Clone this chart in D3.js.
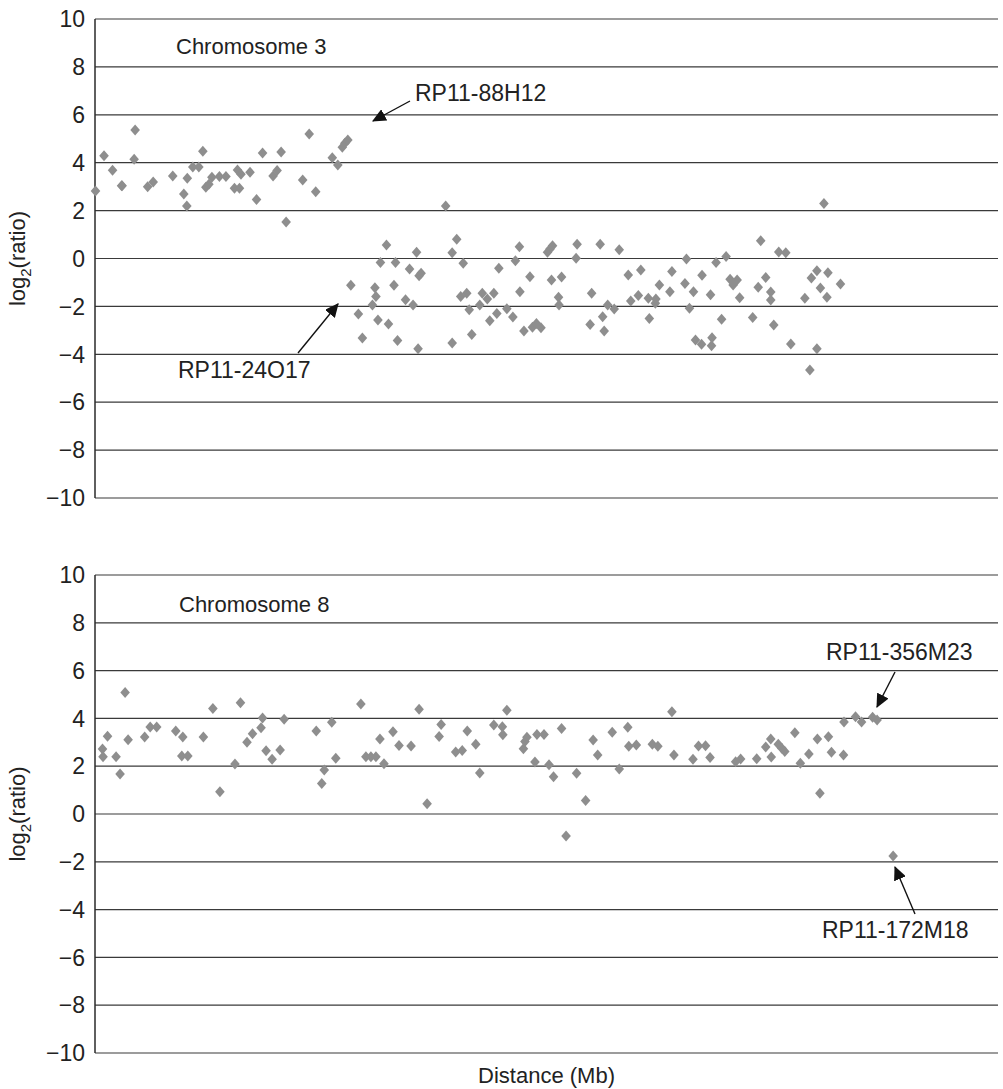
<!DOCTYPE html>
<html lang="en">
<head>
  <meta charset="UTF-8">
  <title>log2 ratio by distance</title>
  <style>
    body { margin: 0; background: #fff; }
    svg { display: block; font-family: "Liberation Sans", Arial, sans-serif; }
    .grid line { stroke: #3a3a3a; stroke-width: 1.2px; }
    .axis-line { stroke: #2a2a2a; stroke-width: 1.5px; }
    .tick-label { font-size: 23px; fill: #222; text-anchor: end; }
    .label { font-size: 22px; fill: #222; }
    .note { font-size: 23px; fill: #222; }
    .ylab { font-size: 22px; fill: #222; }
    .pt { fill: #8e8e8e; }
    .arrow { stroke: #111; stroke-width: 1.4px; }
  </style>
</head>
<body>
  <script src="https://d3js.org/d3.v7.min.js"></script>
  <script>
    // chromosome 3 clones: position (Mb) and log2 ratio
    const chr3Pos = [
      0.1, 1.8, 3.5, 5.3, 5.4, 7.8, 8.0, 10.5, 11.6, 15.5, 17.7, 18.3, 18.4, 19.5, 20.7, 21.5,
      22.1, 22.7, 23.3, 24.8, 26.1, 27.8, 28.8, 28.4, 29.1, 30.9, 32.2, 33.4, 35.5, 36.3, 37.1, 38.1,
      41.4, 42.7, 44.0, 47.3, 48.4, 49.3, 49.8, 50.4,
      51.0, 52.5, 53.3, 55.3, 55.8, 56.0, 56.4, 56.9, 58.1, 58.5, 59.6, 59.9, 60.3, 61.9, 62.7, 63.4,
      64.1, 64.4, 64.6, 65.0, 69.9, 71.2, 71.2, 72.1, 72.9, 73.4, 74.1, 74.6, 75.1, 76.7, 77.2, 78.2,
      78.7, 79.5, 80.1, 80.5, 82.1, 83.3, 83.8, 84.6, 84.7, 85.5, 86.7, 87.2, 88.0, 88.9, 90.2, 90.7,
      91.0, 91.2, 92.4, 92.5, 93.0, 95.9, 96.1, 98.7, 99.0, 100.7, 101.2, 101.5, 102.2, 103.5, 104.5, 106.3,
      106.8, 108.3, 108.8, 110.3, 110.5, 111.7, 111.8, 112.5, 114.6, 115.0, 117.6, 117.9, 118.5, 119.3, 119.7, 120.9,
      121.0, 122.7, 122.9, 123.0, 123.8, 124.9, 125.8, 126.6, 127.2, 128.0, 128.5, 131.1, 132.2, 132.7, 133.7, 134.7,
      134.7, 135.3, 136.3, 137.7, 138.7, 141.5, 142.5, 142.8, 143.9, 143.9, 144.6, 145.3, 145.9, 146.1, 148.6
    ];
    const chr3Ratio = [
      2.82, 4.29, 3.68, 3.04, 3.04, 4.14, 5.37, 3.0, 3.19, 3.44, 2.69, 2.19, 3.35, 3.82, 3.82, 4.48,
      2.97, 3.1, 3.39, 3.42, 3.42, 2.93, 2.93, 3.7, 3.52, 3.6, 2.46, 4.4, 3.44, 3.67, 4.45, 1.52,
      3.28, 5.2, 2.79, 4.21, 3.9, 4.64, 4.81, 4.95,
      -1.12, -2.32, -3.32, -1.94, -1.22, -1.59, -2.57, -0.17, 0.56, -2.73, -1.12, -0.17, -3.42, -1.72, -0.44, -1.94,
      0.26, -3.77, -0.72, -0.62, 2.19, -3.53, 0.24, 0.8, -1.59, -0.2, -1.45, -2.14, -3.17, -1.94, -1.45, -1.69,
      -2.6, -1.45, -2.3, -0.41, -2.1, -2.44, -0.09, 0.49, -1.39, -3.03, -0.76, -2.87, -2.71, -2.89, 0.26, 0.4,
      -0.9, 0.53, -1.62, -1.94, -0.77, 0.01, 0.59, -2.76, -1.45, 0.59, -2.43, -3.03, -1.94, -2.11, 0.37, -0.69,
      -1.77, -1.55, -0.48, -1.66, -2.51, -1.87, -1.69, -1.11, -1.39, -0.54, -1.04, -0.02, -2.08, -1.39, -3.4, -3.58,
      -0.7, -1.51, -3.64, -3.31, -0.17, -2.54, 0.08, -0.87, -1.11, -0.9, -1.64, -2.46, -1.2, 0.74, -0.79, -1.4,
      -1.73, -2.78, 0.27, 0.24, -3.57, -1.66, -4.66, -0.81, -0.51, -3.77, -1.23, 2.3, -1.62, -0.59, -1.06
    ];

    // chromosome 8 clones
    const chr8Pos = [
      1.5, 1.6, 2.5, 4.2, 5.0, 6.0, 6.6, 9.9, 11.0, 12.3, 16.1, 17.3, 17.5, 18.5, 21.6, 23.5,
      24.9, 27.9, 29.0, 30.3, 31.4, 33.1, 33.4, 34.1, 35.3, 36.9, 37.7, 44.1, 45.2, 45.7, 47.2, 48.0,
      53.0, 54.0, 55.0, 56.0, 56.8, 57.6, 59.4, 60.6, 63.0, 64.6, 66.2, 68.6, 69.0, 71.9, 73.2, 74.2,
      75.9, 76.7, 79.5, 81.2, 81.3, 82.1, 85.4, 85.7, 86.1, 87.7, 88.1, 89.5, 90.5, 91.4, 93.0, 93.9,
      96.0, 97.8, 99.3, 100.2, 103.1, 104.5, 106.2, 106.4, 107.9, 111.1, 112.2, 115.0, 115.4, 119.2, 120.3, 121.7,
      122.6, 127.7, 128.7, 131.9, 133.7, 134.7, 134.8, 136.2, 136.9, 137.5, 139.5, 140.6, 142.3, 144.0, 144.5, 146.2,
      146.8, 149.2, 149.3, 151.6, 152.8, 155.0, 155.9, 159.1
    ];
    const chr8Ratio = [
      2.72, 2.4, 3.25, 2.4, 1.67, 5.08, 3.11, 3.22, 3.64, 3.64, 3.47, 2.43, 3.22, 2.43, 3.22, 4.41,
      0.93, 2.09, 4.66, 3.0, 3.36, 3.61, 4.02, 2.65, 2.29, 2.68, 3.96, 3.47, 1.28, 1.84, 3.84, 2.33,
      4.6, 2.4, 2.4, 2.4, 3.14, 2.1, 3.44, 2.87, 2.85, 4.38, 0.43, 3.24, 3.75, 2.59, 2.66, 3.47,
      2.92, 1.72, 3.72, 3.65, 3.32, 4.34, 2.73, 3.03, 3.21, 2.18, 3.33, 3.33, 2.06, 1.56, 3.58, -0.92,
      1.7, 0.56, 3.1, 2.47, 3.42, 1.88, 3.63, 2.83, 2.89, 2.92, 2.83, 4.28, 2.47, 2.29, 2.85, 2.86,
      2.36, 2.19, 2.3, 2.31, 2.8, 3.14, 2.38, 2.92, 2.75, 2.61, 3.4, 2.12, 2.51, 3.14, 0.87, 3.23,
      2.58, 2.47, 3.85, 4.07, 3.85, 4.05, 3.93, -1.76
    ];

    const yTicks = [10, 8, 6, 4, 2, 0, -2, -4, -6, -8, -10];

    const width = 1003, height = 1089;
    const left = 95, right = 998;

    const x = d3.scaleLinear().domain([0, 180]).range([left, right]);

    const panels = [
      {
        pos: chr3Pos, ratio: chr3Ratio, top: 19, bottom: 498, title: "Chromosome 3", titleX: 176, titleDy: 35,
        notes: [
          {text: "RP11-88H12", tx: 415, ty: 101, from: [410, 101], to: [373, 121]},
          {text: "RP11-24O17", tx: 178, ty: 378, from: [298, 353], to: [338, 304]}
        ]
      },
      {
        pos: chr8Pos, ratio: chr8Ratio, top: 575, bottom: 1053, title: "Chromosome 8", titleX: 179, titleDy: 37,
        notes: [
          {text: "RP11-356M23", tx: 826, ty: 660, from: [895, 672], to: [877, 707]},
          {text: "RP11-172M18", tx: 822, ty: 938, from: [915, 914], to: [895, 867]}
        ]
      }
    ];

    const svg = d3.select("body").append("svg").attr("width", width).attr("height", height);

    svg.append("defs").append("marker")
      .attr("id", "head").attr("viewBox", "0 -5 12 10").attr("refX", 11).attr("refY", 0)
      .attr("markerUnits", "userSpaceOnUse").attr("markerWidth", 14).attr("markerHeight", 12)
      .attr("orient", "auto")
      .append("path").attr("d", "M0,-5.5L12,0L0,5.5Z").attr("fill", "#111");

    const diamond = "M0,-5.5L4.8,0L0,5.5L-4.8,0Z";

    panels.forEach(p => {
      const y = d3.scaleLinear().domain([-10, 10]).range([p.bottom, p.top]);
      const g = svg.append("g");

      g.append("g").attr("class", "grid")
        .selectAll("line").data(yTicks).join("line")
        .attr("x1", left).attr("x2", right)
        .attr("y1", d => y(d)).attr("y2", d => y(d));

      g.append("line").attr("class", "axis-line")
        .attr("x1", left).attr("x2", left).attr("y1", p.top).attr("y2", p.bottom);

      g.append("g").selectAll("text").data(yTicks).join("text")
        .attr("class", "tick-label")
        .attr("x", left - 10).attr("y", d => y(d)).attr("dy", "0.36em")
        .text(d => d < 0 ? "\u2212" + Math.abs(d) : d);

      const ylab = g.append("text").attr("class", "ylab")
        .attr("transform", `translate(25,${(p.top + p.bottom) / 2}) rotate(-90)`)
        .attr("text-anchor", "middle");
      ylab.append("tspan").text("log");
      ylab.append("tspan").attr("font-size", "15px").attr("dy", 6).text("2");
      ylab.append("tspan").attr("dy", -6).text("(ratio)");

      g.append("text").attr("class", "label")
        .attr("x", p.titleX).attr("y", p.top + p.titleDy).text(p.title);

      g.append("g").selectAll("path").data(p.pos).join("path")
        .attr("class", "pt")
        .attr("d", diamond)
        .attr("transform", (d, i) => `translate(${x(d)},${y(p.ratio[i])})`);

      p.notes.forEach(n => {
        g.append("line").attr("class", "arrow")
          .attr("x1", n.from[0]).attr("y1", n.from[1])
          .attr("x2", n.to[0]).attr("y2", n.to[1])
          .attr("marker-end", "url(#head)");
        g.append("text").attr("class", "note").attr("x", n.tx).attr("y", n.ty).text(n.text);
      });
    });

    svg.append("text").attr("class", "label")
      .attr("x", (left + right) / 2).attr("y", 1083)
      .attr("text-anchor", "middle")
      .text("Distance (Mb)");
  </script>
</body>
</html>
